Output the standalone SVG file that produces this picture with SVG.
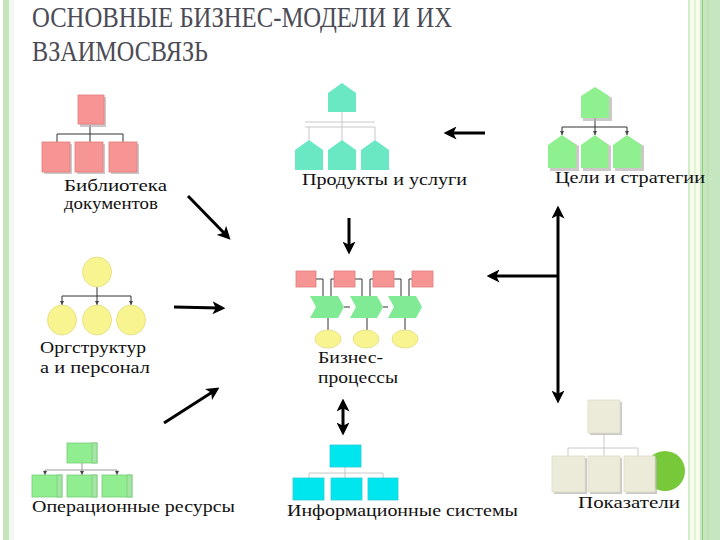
<svg xmlns="http://www.w3.org/2000/svg" width="720" height="540" viewBox="0 0 720 540">
<style>
text{font-family:'Liberation Serif','DejaVu Serif',serif}
.title{font-size:30px;fill:#4b4b55}
.lbl{font-size:16px;fill:#111}
.pink{fill:#f79595;stroke:#e07c7c;stroke-width:0.8}
.teal{fill:#6ae8c4}
.lgreen{fill:#8ff08f}
.yel{fill:#f8f490;stroke:#e0dc80;stroke-width:0.8}
.chev{fill:#80ea94}
.op{fill:#90ee90;stroke:#78cc78;stroke-width:0.8}
.opstrip{fill:#a4e4a4;stroke:#78cc78;stroke-width:0.8}
.cyan{fill:#00e6ef;stroke:#2ccad8;stroke-width:0.8}
.beige{fill:#ecebd9;stroke:#dcdcc8;stroke-width:0.8}
.shadow{fill:#b8b0b0;opacity:0.7}
.dk{fill:none;stroke:#333;stroke-width:1}
.lt{fill:none;stroke:#c8c8c8;stroke-width:1}
.md{fill:none;stroke:#999;stroke-width:1}
.arr{fill:none;stroke:#000;stroke-width:3}
</style>
<defs>
<marker id="ah" viewBox="0 0 12 12" refX="6" refY="6" markerWidth="13" markerHeight="13" markerUnits="userSpaceOnUse" orient="auto-start-reverse">
<path d="M0,0 L12,6 L0,12 L3,6 Z" fill="#000"/>
</marker>
<marker id="tiny" viewBox="0 0 6 6" refX="6" refY="3" markerWidth="4" markerHeight="4" markerUnits="userSpaceOnUse" orient="auto">
<path d="M0,0 L6,3 L0,6 Z" fill="#444"/>
</marker>
</defs>
<rect x="0" y="0" width="720" height="540" fill="#fff"/>
<rect x="3" y="0" width="6" height="540" fill="#c6e5bf"/>
<rect x="9" y="0" width="5" height="540" fill="#f2f9f0"/>
<rect x="688" y="0" width="2" height="540" fill="#d4ebcc"/>
<rect x="690" y="0" width="10" height="540" fill="#f6fbea"/>
<rect x="694" y="0" width="2" height="540" fill="#e2f2d8"/>
<rect x="700" y="0" width="2" height="540" fill="#c8e6c0"/>
<rect x="702" y="0" width="1.5" height="540" fill="#8fd080"/>
<rect x="703.5" y="0" width="16.5" height="540" fill="#c6e6c0"/>
<rect x="707" y="0" width="2" height="540" fill="#bfe0b8"/>
<text class="title" x="32" y="27" textLength="420" lengthAdjust="spacingAndGlyphs">ОСНОВНЫЕ БИЗНЕС-МОДЕЛИ И ИХ</text>
<text class="title" x="32" y="61" textLength="176" lengthAdjust="spacingAndGlyphs">ВЗАИМОСВЯЗЬ</text>

<g id="library">
<path class="dk" d="M90,125 V134 M57,134 H123 M57,134 V142 M90,134 V142 M123,134 V142"/>
<rect class="shadow" x="80" y="97" width="26" height="30"/>
<rect class="pink" x="78" y="95" width="26" height="29"/>
<rect class="shadow" x="44" y="144" width="28" height="30"/>
<rect class="pink" x="42" y="142" width="28" height="30"/>
<rect class="shadow" x="77" y="144" width="28" height="30"/>
<rect class="pink" x="75" y="142" width="28" height="30"/>
<rect class="shadow" x="111" y="144" width="28" height="30"/>
<rect class="pink" x="109" y="142" width="28" height="30"/>
<text class="lbl" x="64" y="191" textLength="103" lengthAdjust="spacingAndGlyphs">Библиотека</text>
<text class="lbl" x="64" y="209" textLength="94" lengthAdjust="spacingAndGlyphs">документов</text>
</g>

<g id="products">
<path class="lt" d="M342,112 V127 M305,122 H375 M305,127 H375 M309,127 V140 M342,127 V140 M375,127 V140"/>
<path class="teal" d="M328,93 L342,83 L356,93 V112 H328 Z"/>
<path class="teal" d="M295,150 L309,140 L323,150 V170 H295 Z"/>
<path class="teal" d="M328,150 L342,140 L356,150 V170 H328 Z"/>
<path class="teal" d="M361,150 L375,140 L389,150 V170 H361 Z"/>
<text class="lbl" x="302" y="185" textLength="165" lengthAdjust="spacingAndGlyphs">Продукты и услуги</text>
</g>

<g id="goals">
<path class="dk" d="M595,118 V127 M562,127 H627"/>
<path class="dk" marker-end="url(#tiny)" d="M562,127 V135"/>
<path class="dk" marker-end="url(#tiny)" d="M595,127 V135"/>
<path class="dk" marker-end="url(#tiny)" d="M627,127 V135"/>
<path class="shadow" d="M583,97 L597,89 L612,98 V121 H583 Z"/>
<path class="lgreen" d="M581,96 L595,87 L609,96 V118 H581 Z"/>
<path class="shadow" d="M550,146 L564,137 L579,146 V171 H550 Z"/>
<path class="lgreen" d="M548,145 L562,135 L576,145 V168 H548 Z"/>
<path class="shadow" d="M583,146 L597,137 L611,146 V171 H583 Z"/>
<path class="lgreen" d="M581,145 L595,135 L608,145 V168 H581 Z"/>
<path class="shadow" d="M615,146 L629,137 L644,146 V171 H615 Z"/>
<path class="lgreen" d="M613,145 L627,135 L641,145 V168 H613 Z"/>
<text class="lbl" x="555" y="183" textLength="150" lengthAdjust="spacingAndGlyphs">Цели и стратегии</text>
</g>

<g id="org">
<path class="dk" d="M97,287 V296 M62,296 H131"/>
<path class="dk" marker-end="url(#tiny)" d="M62,296 V305"/>
<path class="dk" marker-end="url(#tiny)" d="M97,296 V305"/>
<path class="dk" marker-end="url(#tiny)" d="M131,296 V305"/>
<ellipse class="yel" cx="97" cy="272" rx="14.5" ry="15"/>
<ellipse class="yel" cx="62" cy="320" rx="14.5" ry="15"/>
<ellipse class="yel" cx="97" cy="320" rx="14.5" ry="15"/>
<ellipse class="yel" cx="131" cy="320" rx="14.5" ry="15"/>
<text class="lbl" x="40" y="353" textLength="106" lengthAdjust="spacingAndGlyphs">Оргструктур</text>
<text class="lbl" x="40" y="373" textLength="110" lengthAdjust="spacingAndGlyphs">а и персонал</text>
</g>

<g id="processes">
<path class="dk" d="M316,279 H323 V296 M334,279 H331 V296 M355,279 H362 V296 M373,279 H370 V296 M394,279 H401 V296 M412,279 H409 V296 M344,307 H350 M383,307 H388 M328,318 V330 M367,318 V330 M405,318 V330"/>
<rect class="pink" x="296" y="271" width="20" height="16"/>
<rect class="pink" x="334" y="271" width="21" height="16"/>
<rect class="pink" x="373" y="271" width="21" height="16"/>
<rect class="pink" x="412" y="271" width="21" height="16"/>
<path class="chev" d="M310,296 H338 L344,307 L338,318 H310 L316,307 Z"/>
<path class="chev" d="M350,296 H377 L383,307 L377,318 H350 L356,307 Z"/>
<path class="chev" d="M388,296 H416 L422,307 L416,318 H388 L394,307 Z"/>
<ellipse class="yel" cx="328" cy="339" rx="13" ry="9"/>
<ellipse class="yel" cx="366" cy="339" rx="13" ry="9"/>
<ellipse class="yel" cx="405" cy="339" rx="13" ry="9"/>
<text class="lbl" x="318" y="363" textLength="65" lengthAdjust="spacingAndGlyphs">Бизнес-</text>
<text class="lbl" x="318" y="383" textLength="80" lengthAdjust="spacingAndGlyphs">процессы</text>
</g>

<g id="operations">
<path class="md" d="M82,463 V470 M45,470 H117"/>
<path class="md" marker-end="url(#tiny)" d="M45,470 V475"/>
<path class="md" marker-end="url(#tiny)" d="M82,470 V475"/>
<path class="md" marker-end="url(#tiny)" d="M117,470 V475"/>
<rect class="op" x="67" y="443" width="30" height="20"/>
<rect class="opstrip" x="92" y="443" width="5" height="20"/>
<rect class="op" x="32" y="475" width="30" height="22"/>
<rect class="opstrip" x="57" y="475" width="5" height="22"/>
<rect class="op" x="67" y="475" width="30" height="22"/>
<rect class="opstrip" x="92" y="475" width="5" height="22"/>
<rect class="op" x="102" y="475" width="30" height="22"/>
<rect class="opstrip" x="127" y="475" width="5" height="22"/>
<text class="lbl" x="32" y="512" textLength="203" lengthAdjust="spacingAndGlyphs">Операционные ресурсы</text>
</g>

<g id="infosys">
<path class="lt" d="M345,467 V473 M309,473 H383 M309,473 V478 M345,473 V478 M383,473 V478"/>
<rect class="cyan" x="330" y="445" width="31" height="22"/>
<rect class="cyan" x="293" y="478" width="31" height="22"/>
<rect class="cyan" x="331" y="478" width="31" height="22"/>
<rect class="cyan" x="368" y="478" width="30" height="22"/>
<text class="lbl" x="287" y="516" textLength="231" lengthAdjust="spacingAndGlyphs">Информационные системы</text>
</g>

<g id="indicators">
<circle cx="665" cy="471" r="20" fill="#78c93a"/>
<path class="lt" d="M604,433 V448 M568,448 H638 M568,448 V456 M604,448 V456 M638,448 V456"/>
<rect class="shadow" x="590" y="402" width="32" height="33" opacity="0.4"/>
<rect class="beige" x="588" y="400" width="32" height="33"/>
<rect class="shadow" x="554" y="458" width="33" height="36" opacity="0.4"/>
<rect class="beige" x="552" y="456" width="33" height="36"/>
<rect class="shadow" x="590" y="458" width="32" height="36" opacity="0.4"/>
<rect class="beige" x="588" y="456" width="32" height="36"/>
<rect class="shadow" x="626" y="458" width="31" height="36" opacity="0.4"/>
<rect class="beige" x="624" y="456" width="31" height="36"/>
<text class="lbl" x="578" y="508" textLength="102" lengthAdjust="spacingAndGlyphs">Показатели</text>
</g>

<g id="connectors">
<line class="arr" x1="188" y1="196" x2="226" y2="235" marker-end="url(#ah)"/>
<line class="arr" x1="485" y1="133" x2="450" y2="133" marker-end="url(#ah)"/>
<line class="arr" x1="349" y1="218" x2="349" y2="248" marker-end="url(#ah)"/>
<line class="arr" x1="558" y1="212" x2="558" y2="397" marker-start="url(#ah)" marker-end="url(#ah)"/>
<line class="arr" x1="558" y1="276" x2="493" y2="276" marker-end="url(#ah)"/>
<line class="arr" x1="174" y1="307" x2="219" y2="308" marker-end="url(#ah)"/>
<line class="arr" x1="164" y1="423" x2="214" y2="391" marker-end="url(#ah)"/>
<line class="arr" x1="343" y1="405" x2="343" y2="429" marker-start="url(#ah)" marker-end="url(#ah)"/>
</g>
</svg>
